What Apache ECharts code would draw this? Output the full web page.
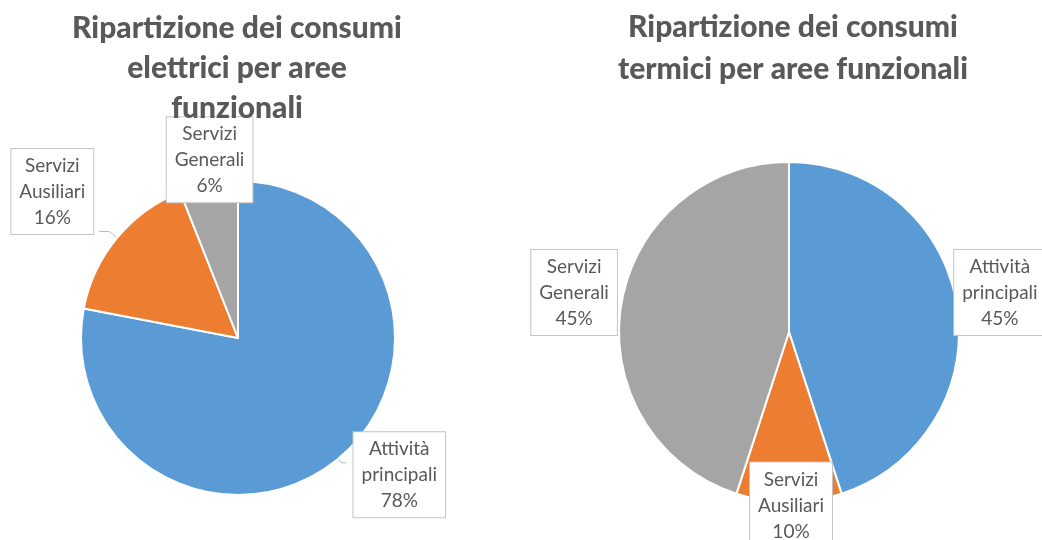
<!DOCTYPE html>
<html>
<head>
<meta charset="utf-8">
<script src="https://cdn.jsdelivr.net/npm/echarts@6/dist/echarts.min.js"></script>
<style>
  html, body { margin: 0; padding: 0; background: #fff; }
  #chart { width: 1042px; height: 540px; }
</style>
</head>
<body>
<div id="chart"></div>
<script>
// Consumption shares by functional area (percent)
const categories = ['Attività principali', 'Servizi Ausiliari', 'Servizi Generali'];
const electricValues = [78, 16, 6];
const thermalValues = [45, 10, 45];
const electricTitle = 'Ripartizione dei consumi\nelettrici per aree\nfunzionali';
const thermalTitle = 'Ripartizione dei consumi\ntermici per aree funzionali';

const sliceColors = ['#5B9BD5', '#ED7D31', '#A5A5A5'];
const textGray = '#595959';
const fontFamily = 'Lato, "Open Sans", sans-serif';

// Callout settings per slice: offset of the box and length of the pointer line
const electricCallouts = [
  { dx: 48, dy: 12, len: 5, len2: 5, line: true },
  { dx: -42, dy: -40, len: 10, len2: 10, line: true },
  { dx: 6, dy: -24, len: 0, len2: 0, line: false }
];
const thermalCallouts = [
  { dx: 38, dy: -13, len: 0, len2: 0, line: false },
  { dx: -3, dy: 3, len: 0, len2: 0, line: false },
  { dx: -42, dy: -13, len: 0, len2: 0, line: false }
];

function toData(values, callouts) {
  return values.map((v, i) => ({
    name: categories[i],
    value: v,
    labelLine: { show: callouts[i].line, length: callouts[i].len, length2: callouts[i].len2 }
  }));
}

function calloutFormatter(p) {
  const words = p.name.split(' ');
  return words.map(w => '{t|' + w + '}').join('\n') + '\n{t|' + Math.round(p.percent) + '%}';
}

function pieSeries(values, center, radius, callouts) {
  return {
    type: 'pie',
    center: center,
    radius: radius,
    startAngle: 90,
    clockwise: true,
    avoidLabelOverlap: false,
    data: toData(values, callouts),
    itemStyle: { borderColor: '#ffffff', borderWidth: 2 },
    label: {
      show: true,
      position: 'outside',
      formatter: calloutFormatter,
      backgroundColor: '#ffffff',
      borderColor: '#c4c4c4',
      borderWidth: 1,
      padding: [4, 8, 3, 8],
      color: textGray,
      fontFamily: fontFamily,
      fontSize: 19,
      lineHeight: 26,
      rich: {
        t: { align: 'center', color: textGray, fontFamily: fontFamily, fontSize: 19, lineHeight: 26 }
      }
    },
    labelLine: {
      lineStyle: { color: '#b8b8b8', width: 1 }
    },
    labelLayout: function (params) {
      const c = callouts[params.dataIndex];
      return { align: 'center', verticalAlign: 'middle', dx: c.dx, dy: c.dy };
    },
    emphasis: { disabled: true }
  };
}

const chart = echarts.init(document.getElementById('chart'), null, { renderer: 'canvas' });
chart.setOption({
  animation: false,
  color: sliceColors,
  title: [
    {
      text: electricTitle,
      left: 237, top: 8, textAlign: 'center', padding: 0,
      textStyle: { color: textGray, fontFamily: fontFamily, fontWeight: 900, fontSize: 30, lineHeight: 40 }
    },
    {
      text: thermalTitle,
      left: 793, top: 6, textAlign: 'center', padding: 0,
      textStyle: { color: textGray, fontFamily: fontFamily, fontWeight: 900, fontSize: 30, lineHeight: 42 }
    }
  ],
  series: [
    pieSeries(electricValues, [238, 338], 157, electricCallouts),
    pieSeries(thermalValues, [789, 332], 170, thermalCallouts)
  ]
});
</script>
</body>
</html>
